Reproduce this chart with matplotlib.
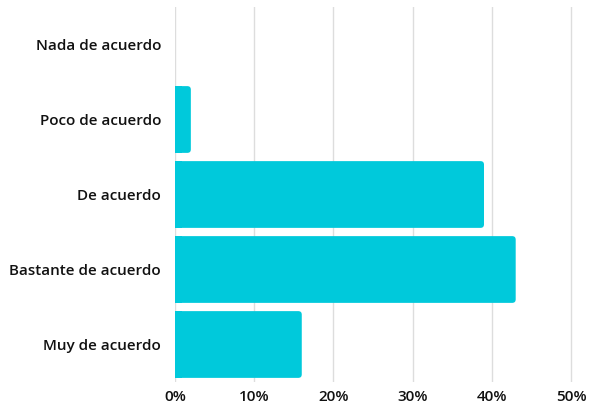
import matplotlib.pyplot as plt
from matplotlib.patches import FancyBboxPatch, Rectangle
from matplotlib.ticker import FuncFormatter

categorias = ['Nada de acuerdo', 'Poco de acuerdo', 'De acuerdo',
              'Bastante de acuerdo', 'Muy de acuerdo']
porcentajes = [0, 2, 39, 43, 16]
ticks = [0, 10, 20, 30, 40, 50]

color = '#00C9DB'
plt.rcParams['font.family'] = ['Open Sans', 'DejaVu Sans']

fig = plt.figure(figsize=(5.89, 4.08), dpi=100)
ax = fig.add_axes([175 / 589, 1 - 382 / 408, 412 / 589, 375 / 408])

bars = ax.barh(range(len(categorias)), porcentajes, height=0.89, color=color, zorder=2)
ax.set_xlim(0, 52)
ax.set_ylim(len(categorias) - 0.5, -0.5)

# esquinas redondeadas a la derecha
px_x = 412 / 52
px_y = 375 / 5
r = 3.5 / px_x
for b in bars:
    w = b.get_width()
    if w <= 0:
        continue
    y0, h = b.get_y(), b.get_height()
    b.set_visible(False)
    ax.add_patch(FancyBboxPatch((0, y0), w, h,
                                boxstyle='round,pad=0,rounding_size=%f' % r,
                                mutation_aspect=px_x / px_y,
                                fc=color, ec='none', zorder=2))
    ax.add_patch(Rectangle((0, y0), min(w, 2 * r), h, fc=color, ec='none', zorder=2))

ax.set_yticks(range(len(categorias)))
ax.set_yticklabels(categorias)
ax.set_xticks(ticks)
ax.xaxis.set_major_formatter(FuncFormatter(lambda v, p: '%d%%' % v))
ax.tick_params(axis='y', length=0, labelsize=11, pad=10)
ax.tick_params(axis='x', length=0, labelsize=11, pad=6)
for t in ax.get_xticklabels() + ax.get_yticklabels():
    t.set_fontweight('semibold')
    t.set_color('#111111')
ax.grid(axis='x', color='#dddddd', linewidth=1, zorder=0)
for s in ax.spines.values():
    s.set_visible(False)

fig.savefig('out.png', dpi=100)
